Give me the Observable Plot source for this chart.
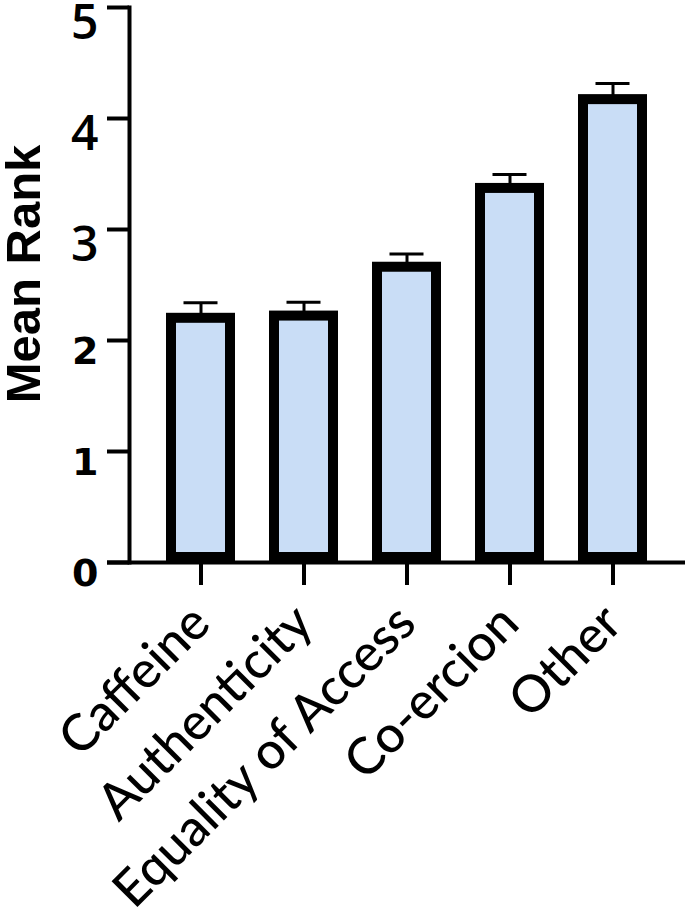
<!DOCTYPE html>
<html>
<head>
<meta charset="utf-8">
<script src="https://cdn.jsdelivr.net/npm/d3@7"></script>
<script src="https://cdn.jsdelivr.net/npm/@observablehq/plot@0.6"></script>
<style>
  html, body { margin: 0; padding: 0; background: #fff; }
  #chart { width: 685px; height: 918px; }
  svg { display: block; }
</style>
</head>
<body>
<div id="chart"></div>
<script>
const categories = ["Caffeine", "Authenticity", "Equality of Access", "Co-ercion", "Other"];
const means = [2.20, 2.22, 2.66, 3.37, 4.17];
const sems = [0.14, 0.125, 0.12, 0.125, 0.145];
const yTicksBold = [0, 1, 2];
const yTicksLight = [3, 4, 5];
const yTicksAll = [0, 1, 2, 3, 4, 5];
const yLabel = "Mean Rank";

const data = categories.map((c, i) => ({name: c, mean: means[i], hi: means[i] + sems[i]}));

const chart = Plot.plot({
  width: 685,
  height: 918,
  marginLeft: 129,
  marginRight: 1,
  marginTop: 7,
  marginBottom: 356,
  style: {color: "black", background: "white"},
  x: {domain: categories, paddingInner: 0.43, paddingOuter: 0.395, axis: null},
  y: {domain: [0, 5], axis: null},
  marks: [
    Plot.ruleX(data, {x: "name", y1: "mean", y2: "hi", stroke: "black", strokeWidth: 3}),
    Plot.tickY(data, {x: "name", y: "hi", stroke: "black", strokeWidth: 3, insetLeft: 12.5, insetRight: 12.5}),
    Plot.barY(data, {x: "name", y: "mean", fill: "#c9ddf6", stroke: "black", strokeWidth: 10, insetBottom: 5}),
    Plot.frame({anchor: "left", stroke: "black", strokeWidth: 4}),
    Plot.ruleY([0], {stroke: "black", strokeWidth: 4, insetLeft: -22, insetRight: -1}),
    // tick marks only
    Plot.axisY({ticks: yTicksAll, tickSize: 22, strokeWidth: 4, fill: "none", label: null}),
    // tick labels, two styles
    Plot.axisY({ticks: yTicksBold, tickSize: 0, tickPadding: 31, stroke: "none", tickFormat: d3.format("d"), fontSize: 38, fontWeight: 700, fontFamily: "DejaVu Sans", dy: 11, label: null}),
    Plot.axisY({ticks: yTicksLight, tickSize: 0, tickPadding: 31, stroke: "none", tickFormat: d3.format("d"), fontSize: 48, fontWeight: 600, fontFamily: "Open Sans", dy: 16, label: null}),
    Plot.axisX({tickSize: 23, strokeWidth: 4, fill: "none", label: null}),
    Plot.axisX({tickSize: 0, tickPadding: 52, stroke: "none", tickRotate: -45, fontSize: 51, fontWeight: 500, fontFamily: "Lato", label: null}),
    Plot.text([yLabel], {frameAnchor: "left", textAnchor: "middle", rotate: -90, dx: -105, dy: -11, fontSize: 49, fontWeight: "bold", fontFamily: "Liberation Sans"})
  ]
});
document.getElementById("chart").appendChild(chart);
</script>
</body>
</html>
